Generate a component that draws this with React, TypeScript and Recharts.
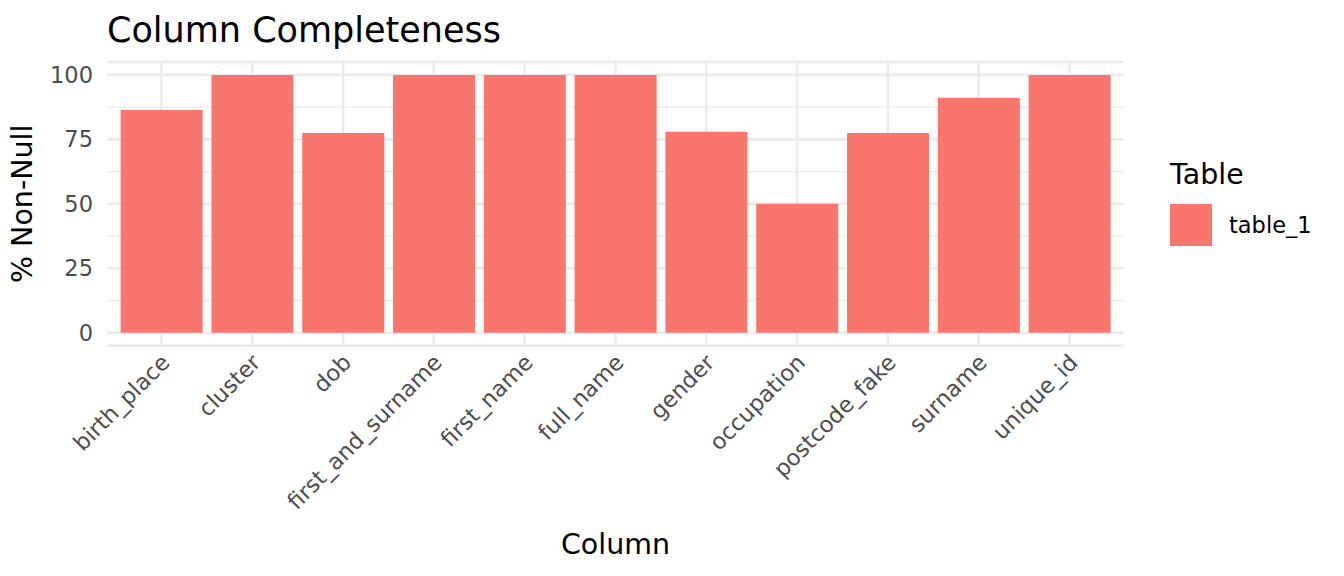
import React from 'react';
import { BarChart, Bar, XAxis, YAxis, CartesianGrid, Legend } from 'recharts';

const columns = [
  'birth_place', 'cluster', 'dob', 'first_and_surname', 'first_name', 'full_name',
  'gender', 'occupation', 'postcode_fake', 'surname', 'unique_id',
];
const pctNonNull = [86.4, 100, 77.5, 100, 100, 100, 77.9, 50, 77.5, 91.1, 100];
const yTicks = [0, 25, 50, 75, 100];
const yMinorTicks = [12.5, 37.5, 62.5, 87.5];
const seriesName = 'table_1';

const data = columns.map((c, i) => ({ column: c, value: pctNonNull[i] }));

const FONT = 'DejaVu Sans, sans-serif';
const GRID = '#EBEBEB';
const FILL = '#F8766D';

const XTick = (props: any) => {
  const { x, payload } = props;
  const px = x + 9.5;
  const py = 364;
  return (
    <text
      x={px}
      y={py}
      transform={`rotate(-45, ${px}, ${py})`}
      textAnchor="end"
      fontSize={22.5}
      fontFamily={FONT}
      fill="#4D4D4D"
    >
      {payload.value}
    </text>
  );
};

const YTick = (props: any) => {
  const { y, payload } = props;
  return (
    <text x={93} y={y} dy="0.36em" textAnchor="end" fontSize={22.5} fontFamily={FONT} fill="#4D4D4D">
      {payload.value}
    </text>
  );
};

const LegendContent = (props: any) => {
  const items = props.payload || [];
  return (
    <svg width={214} height={120} style={{ display: 'block' }}>
      <text x={40} y={34} fontSize={28.5} fontFamily={FONT} fill="#000">Table</text>
      {items.map((it: any, i: number) => (
        <g key={i}>
          <rect x={40} y={54 + i * 46} width={42} height={42} fill={it.color} />
          <text x={99} y={82.7 + i * 46} fontSize={22.5} fontFamily={FONT} fill="#000">
            {it.value}
          </text>
        </g>
      ))}
    </svg>
  );
};

export default function App() {
  return (
    <div style={{ position: 'absolute', left: 0, top: 0, width: 1344, height: 576, background: '#fff' }}>
      <BarChart
        width={1344}
        height={576}
        data={data}
        margin={{ top: 62, right: 220, bottom: 0, left: 0 }}
        barCategoryGap="5%"
        style={{ fontFamily: FONT }}
      >
        <CartesianGrid
          horizontal={true}
          vertical={false}
          horizontalValues={yMinorTicks}
          stroke={GRID}
          strokeWidth={1.3}
        />
        <CartesianGrid
          horizontal={false}
          vertical={true}
          verticalValues={columns}
          stroke={GRID}
          strokeWidth={2.6}
        />
        <CartesianGrid vertical={false} stroke={GRID} strokeWidth={2.6} />
        <XAxis
          dataKey="column"
          type="category"
          height={230.4}
          axisLine={false}
          tickLine={false}
          interval={0}
          padding={{ left: 9.1, right: 9.1 }}
          tick={<XTick />}
        />
        <YAxis
          type="number"
          domain={[-5, 105]}
          ticks={yTicks}
          width={107}
          axisLine={false}
          tickLine={false}
          tick={<YTick />}
        />
        <Bar dataKey="value" name={seriesName} fill={FILL} isAnimationActive={false} />
        <Legend
          layout="vertical"
          align="center"
          verticalAlign="middle"
          content={<LegendContent />}
          wrapperStyle={{ position: 'absolute', left: 1130, top: 150, width: 214, height: 120 }}
        />
        <text x={107} y={41.7} fontSize={35} fontFamily={FONT} fill="#000">Column Completeness</text>
        <text x={615.5} y={554.3} fontSize={28.5} fontFamily={FONT} fill="#000" textAnchor="middle">Column</text>
        <text
          x={32}
          y={203.8}
          fontSize={28.5}
          fontFamily={FONT}
          fill="#000"
          textAnchor="middle"
          transform="rotate(-90, 32, 203.8)"
        >
          % Non-Null
        </text>
      </BarChart>
    </div>
  );
}
